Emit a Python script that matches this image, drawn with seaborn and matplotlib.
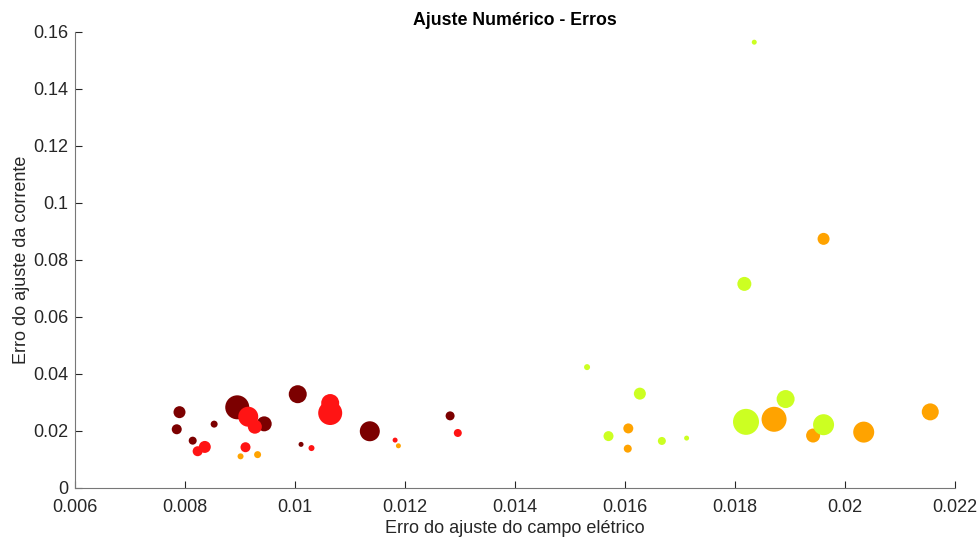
import matplotlib
matplotlib.use("Agg")
import matplotlib.pyplot as plt
import seaborn as sns
import pandas as pd
import numpy as np

# Errors of the electric-field fit (x) and current fit (y), one group per colour
grupos = ["A", "B", "C", "D"]
cores = {"A": "#7c0000", "B": "#ff1414", "C": "#ffa300", "D": "#ccff22"}

erro_campo_A = [0.00790, 0.00785, 0.00814, 0.00853, 0.00895, 0.00944, 0.01005, 0.01011, 0.01136, 0.01282]
erro_corr_A = [0.0266, 0.0206, 0.0166, 0.0224, 0.0283, 0.0225, 0.0329, 0.0153, 0.0199, 0.0253]
peso_A = [12, 10, 8, 7, 24, 15, 18, 5, 20, 9]

erro_campo_B = [0.00836, 0.00823, 0.00915, 0.00927, 0.00910, 0.01064, 0.01064, 0.01030, 0.01182, 0.01296]
erro_corr_B = [0.0144, 0.0129, 0.0250, 0.0215, 0.0143, 0.0298, 0.0263, 0.0140, 0.0168, 0.0193]
peso_B = [12, 10, 20, 14, 10, 18, 24, 6, 5, 8]

erro_campo_C = [0.00901, 0.00932, 0.01188, 0.01606, 0.01605, 0.01871, 0.01942, 0.02034, 0.02155, 0.01961]
erro_corr_C = [0.0111, 0.0117, 0.0148, 0.0209, 0.0138, 0.0241, 0.0184, 0.0196, 0.0267, 0.0874]
peso_C = [6, 7, 5, 10, 8, 25, 14, 21, 17, 12]

erro_campo_D = [0.01531, 0.01627, 0.01570, 0.01667, 0.01712, 0.01820, 0.01892, 0.01961, 0.01835, 0.01817]
erro_corr_D = [0.0424, 0.0331, 0.0182, 0.0165, 0.0175, 0.0232, 0.0312, 0.0222, 0.1564, 0.0716]
peso_D = [6, 12, 10, 8, 5, 26, 18, 21, 5, 14]

xticks = [0.006, 0.008, 0.010, 0.012, 0.014, 0.016, 0.018, 0.020, 0.022]
xticklabels = ["0.006", "0.008", "0.01", "0.012", "0.014", "0.016", "0.018", "0.02", "0.022"]
yticks = [0, 0.02, 0.04, 0.06, 0.08, 0.10, 0.12, 0.14, 0.16]
yticklabels = ["0", "0.02", "0.04", "0.06", "0.08", "0.1", "0.12", "0.14", "0.16"]

frames = []
for g, xs, ys, ps in [("A", erro_campo_A, erro_corr_A, peso_A),
                      ("B", erro_campo_B, erro_corr_B, peso_B),
                      ("C", erro_campo_C, erro_corr_C, peso_C),
                      ("D", erro_campo_D, erro_corr_D, peso_D)]:
    frames.append(pd.DataFrame({"campo": xs, "corrente": ys, "peso": ps, "grupo": g}))
df = pd.concat(frames, ignore_index=True)
# marker area in pt^2 from the marker diameter (weight given in pixels at 100 dpi)
df["area"] = (df["peso"] * 0.72) ** 2

sns.set_theme(style="white")
plt.rcParams["font.family"] = ["Liberation Sans", "DejaVu Sans"]

fig = plt.figure(figsize=(9.79, 5.41), dpi=100)
ax = fig.add_axes([0.0766, 0.098, 0.8989, 0.843])

amax = float(df["area"].max())
sns.scatterplot(data=df, x="campo", y="corrente", hue="grupo", palette=cores,
                hue_order=grupos, size="area", sizes=(0, amax), size_norm=(0, amax),
                linewidth=0, alpha=1, legend=False, ax=ax)

ax.set_xlim(0.006, 0.022)
ax.set_ylim(0, 0.16)
ax.set_xticks(xticks)
ax.set_xticklabels(xticklabels)
ax.set_yticks(yticks)
ax.set_yticklabels(yticklabels)

ax.tick_params(direction="in", length=5, width=0.8, colors="#262626",
               labelsize=13, left=True, bottom=True)
ax.tick_params(axis="x", pad=8)
ax.tick_params(axis="y", pad=5)
for s in ["top", "right"]:
    ax.spines[s].set_visible(False)
for s in ["left", "bottom"]:
    ax.spines[s].set_color("#777777")
    ax.spines[s].set_linewidth(0.8)

ax.set_xlabel("Erro do ajuste do campo elétrico", fontsize=13, color="#262626", labelpad=3)
ax.set_ylabel("Erro do ajuste da corrente", fontsize=13, color="#262626", labelpad=2)
ax.set_title("Ajuste Numérico - Erros", fontsize=12.8, fontweight="bold", color="black", pad=5)

fig.savefig("out.png", dpi=100, facecolor="white")
